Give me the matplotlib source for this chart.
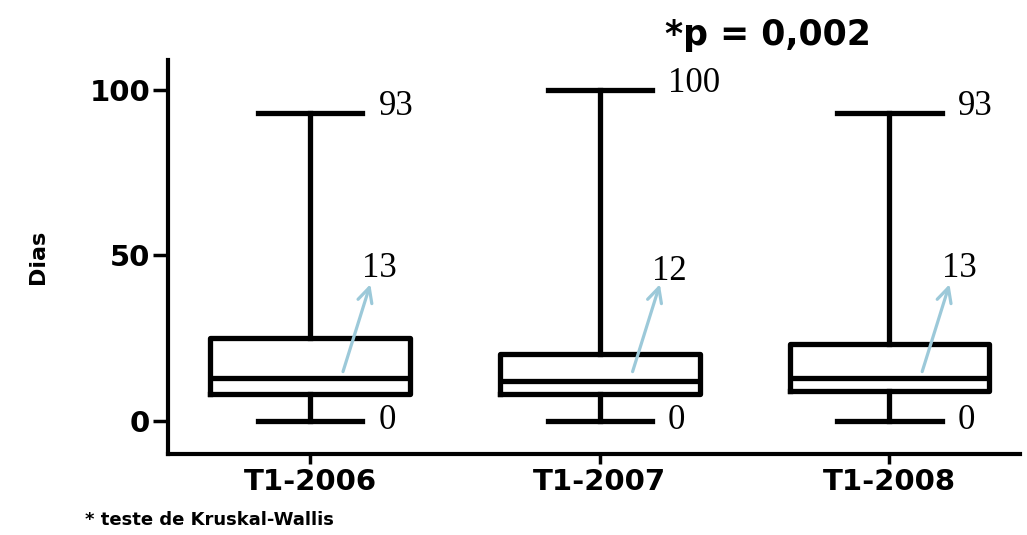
import matplotlib.pyplot as plt

# Dias por trimestre
grupos = ['T1-2006', 'T1-2007', 'T1-2008']
minimos = [0, 0, 0]
q1 = [8, 8, 9]
medianas = [13, 12, 13]
q3 = [25, 20, 23]
maximos = [93, 100, 93]

stats = []
for g, lo, a, m, b, hi in zip(grupos, minimos, q1, medianas, q3, maximos):
    stats.append({'label': g, 'whislo': lo, 'q1': a, 'med': m, 'q3': b, 'whishi': hi})

fig, ax = plt.subplots(figsize=(10.27, 5.35), dpi=100)
fig.subplots_adjust(left=0.164, right=0.993, top=0.888, bottom=0.152)

lw = 3.8
pos = [1, 2, 3]
ax.bxp(stats, positions=pos, widths=0.69, showfliers=False,
       boxprops=dict(color='black', linewidth=lw),
       whiskerprops=dict(color='black', linewidth=lw),
       capprops=dict(color='black', linewidth=lw),
       medianprops=dict(color='black', linewidth=lw),
       capwidths=0.36)

# valores de máximo, mínimo e mediana
serif = 'Liberation Serif'
for x, lo, m, hi in zip(pos, minimos, medianas, maximos):
    ax.text(x + 0.235, hi + 2, str(hi), fontsize=25, family=serif, va='center', ha='left')
    ax.text(x + 0.235, lo, str(lo), fontsize=25, family=serif, va='center', ha='left')
    ax.text(x + 0.18, m + 33, str(m), fontsize=25, family=serif, va='center', ha='left')
    ax.annotate('', xy=(x + 0.21, 42), xytext=(x + 0.11, 14),
                arrowprops=dict(arrowstyle='->', color='#9cc9d9', lw=2.3,
                                mutation_scale=26))

ax.set_xlim(0.51, 3.45)
ax.set_ylim(-10, 109)
ax.set_yticks([0, 50, 100])
ax.set_xticks(pos)
ax.set_xticklabels(grupos, fontsize=21, fontweight='heavy')
for t in ax.get_yticklabels():
    t.set_fontsize(21)
    t.set_fontweight('heavy')
ax.tick_params(axis='y', width=2.5, length=11, direction='out', pad=2)
ax.tick_params(axis='x', width=2.5, length=7, direction='out', pad=3)
for s in ['top', 'right']:
    ax.spines[s].set_visible(False)
for s in ['left', 'bottom']:
    ax.spines[s].set_linewidth(3)

ax.set_ylabel('Dias', fontsize=16, fontweight='heavy', labelpad=30)

fig.text(0.648, 0.935, '*p = 0,002', fontsize=25, fontweight='bold', va='center')
fig.text(0.083, 0.028, '* teste de Kruskal-Wallis', fontsize=13, fontweight='heavy', va='center')

plt.savefig('out.png', dpi=100)
